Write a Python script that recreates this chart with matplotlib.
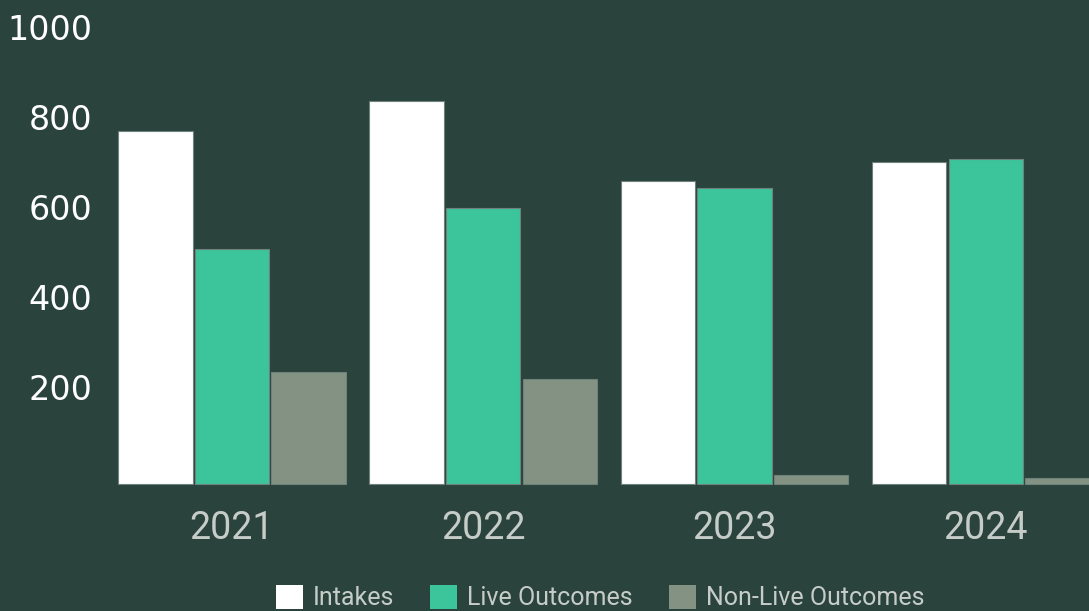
import numpy as np
import matplotlib as mpl
mpl.use('Agg')
import matplotlib.pyplot as plt
from matplotlib.transforms import ScaledTranslation

### Data ##################################
years    = ['2021', '2022', '2023', '2024']
intakes  = [784, 852, 673, 716]
live     = [522, 613, 658, 723]
nonlive  = [250, 233, 20, 13]
series_names = ['Intakes', 'Live Outcomes', 'Non-Live Outcomes']
yticks   = [200, 400, 600, 800, 1000]
###########################################

### Plotting style ########################
bg     = '#2b433d'
c_int  = '#ffffff'
c_live = '#3cc59b'
c_non  = '#849283'
edge   = '#6f817b'
mpl.rc('figure', facecolor=bg)
mpl.rc('axes', facecolor=bg)
###########################################

fig = plt.figure(figsize=(10.89, 6.11), dpi=100)
ax = fig.add_axes([0, 0, 1, 1])

x = np.arange(len(years))
w = 0.296
off = 0.305
ax.bar(x - off, intakes, w, color=c_int, edgecolor=edge, lw=0.8, label=series_names[0])
ax.bar(x, live, w, color=c_live, edgecolor=edge, lw=0.8, label=series_names[1])
ax.bar(x + off, nonlive, w, color=c_non, edgecolor=edge, lw=0.8, label=series_names[2])

ax.set_xlim(-0.923, 3.410)
ax.set_ylim(-282.2, 1075.6)

for s in ax.spines.values():
    s.set_visible(False)
ax.spines['bottom'].set_position(('data', 0))

# y labels sit inside the figure, right edge at ~92px
ax.set_yticks(yticks)
ax.set_yticklabels([str(v) for v in yticks])
ax.tick_params(axis='y', length=0, pad=-66.2, labelsize=24, labelcolor='white')
for lab in ax.get_yticklabels():
    lab.set_fontfamily('DejaVu Sans')
    lab.set_transform(lab.get_transform() + ScaledTranslation(0, 7/100, fig.dpi_scale_trans))

ax.set_xticks(x)
ax.set_xticklabels(years)
ax.tick_params(axis='x', length=0, pad=19, labelsize=27, labelcolor='#c6cdc9')
for lab in ax.get_xticklabels():
    lab.set_fontfamily('Roboto')

leg = fig.legend(loc='upper left', bbox_to_anchor=(276/1089, 1 - 585/611),
                 ncol=3, frameon=False, borderpad=0, borderaxespad=0,
                 handlelength=1.08, handleheight=1.08, handletextpad=0.4,
                 columnspacing=1.44,
                 prop={'family': 'Roboto', 'size': 18})
for t in leg.get_texts():
    t.set_color('#c6cdc9')
for h in leg.legend_handles:
    h.set_edgecolor('none')

plt.savefig('out.png', dpi=100, facecolor=bg)
